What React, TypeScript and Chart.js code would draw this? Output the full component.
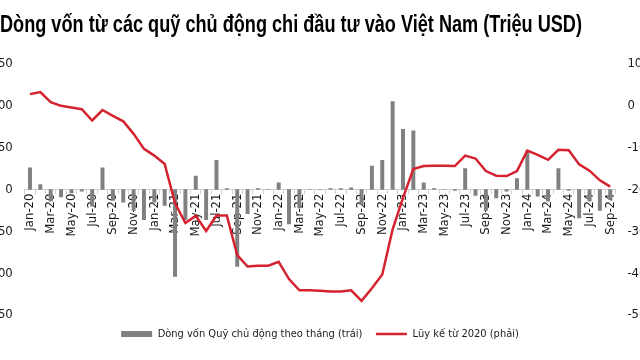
import React, { useEffect, useLayoutEffect, useRef } from 'react';
import { Chart, registerables } from 'chart.js';

Chart.register(...registerables);

const TITLE = 'Dòng vốn từ các quỹ chủ động chi đầu tư vào Việt Nam (Triệu USD)';
const BAR_LABEL = 'Dòng vốn Quỹ chủ động theo tháng (trái)';
const LINE_LABEL = 'Lũy kế từ 2020 (phải)';

const CATEGORIES = [
  'Jan-20', 'Feb-20', 'Mar-20', 'Apr-20', 'May-20', 'Jun-20', 'Jul-20', 'Aug-20', 'Sep-20', 'Oct-20', 'Nov-20', 'Dec-20',
  'Jan-21', 'Feb-21', 'Mar-21', 'Apr-21', 'May-21', 'Jun-21', 'Jul-21', 'Aug-21', 'Sep-21', 'Oct-21', 'Nov-21', 'Dec-21',
  'Jan-22', 'Feb-22', 'Mar-22', 'Apr-22', 'May-22', 'Jun-22', 'Jul-22', 'Aug-22', 'Sep-22', 'Oct-22', 'Nov-22', 'Dec-22',
  'Jan-23', 'Feb-23', 'Mar-23', 'Apr-23', 'May-23', 'Jun-23', 'Jul-23', 'Aug-23', 'Sep-23', 'Oct-23', 'Nov-23', 'Dec-23',
  'Jan-24', 'Feb-24', 'Mar-24', 'Apr-24', 'May-24', 'Jun-24', 'Jul-24', 'Aug-24', 'Sep-24',
];

// Monthly flow (left axis, million USD)
const MONTHLY_FLOW = [
  26, 6, -14, -9, -4, -2, -20, 26, -13, -15, -25, -36,
  -15, -19, -104, -36, 16, -36, 35, 1, -92, -29, 1, 0,
  8, -41, -22, 0, 0, 1, 1, 2, -18, 28, 35, 105,
  72, 70, 8, 1, 0, -1, 25, -7, -25, -10, -2, 13,
  46, -8, -14, 25, -1, -34, -14, -25, -12,
];

// Cumulative since 2020 (right axis, million USD)
const CUMULATIVE = [
  28, 33, 9, 0, -4, -8, -35, -10, -24, -37, -67, -103,
  -119, -139, -233, -280, -263, -299, -262, -262, -357, -384, -382, -382,
  -373, -414, -441, -441, -442, -444, -444, -441, -466, -436, -403, -295,
  -220, -151, -144, -143, -143, -144, -119, -126, -156, -167, -168, -156,
  -107, -117, -129, -105, -106, -140, -155, -178, -193,
];

const LEFT_MIN = -150;
const LEFT_MAX = 150;
const LEFT_STEP = 50;
const RIGHT_MIN = -500;
const RIGHT_MAX = 100;
const RIGHT_STEP = 100;

const GRAY = '#808080';
const RED = '#d4232f';
const TEXT = '#1a1a1a';
const NARROW = '"Liberation Sans Narrow", "Arial Narrow", "DejaVu Sans Condensed", sans-serif';
const TITLE_TARGET_WIDTH = 582;

export default function App() {
  const ref = useRef<HTMLCanvasElement>(null);
  const titleRef = useRef<HTMLSpanElement>(null);

  useLayoutEffect(() => {
    const el = titleRef.current;
    if (!el) return;
    el.style.transform = 'none';
    const w = el.getBoundingClientRect().width;
    if (w > 0) el.style.transform = `scaleX(${TITLE_TARGET_WIDTH / w})`;
  }, []);

  useEffect(() => {
    if (!ref.current) return;
    const chart = new Chart(ref.current, {
      type: 'bar',
      data: {
        labels: CATEGORIES,
        datasets: [
          {
            type: 'bar',
            label: BAR_LABEL,
            data: MONTHLY_FLOW,
            backgroundColor: GRAY,
            barThickness: 3.3,
            yAxisID: 'y',
            order: 2,
          } as any,
          {
            type: 'line',
            label: LINE_LABEL,
            data: CUMULATIVE,
            borderColor: RED,
            backgroundColor: RED,
            borderWidth: 2.5,
            pointRadius: 0,
            tension: 0,
            yAxisID: 'y1',
            order: 1,
          } as any,
        ],
      },
      options: {
        animation: false,
        responsive: false,
        maintainAspectRatio: false,
        layout: { padding: { left: 0, right: 0, top: 64, bottom: 10.5 } },
        plugins: {
          title: { display: false },
          legend: {
            position: 'bottom',
            labels: {
              usePointStyle: true,
              pointStyleWidth: 31,
              boxHeight: 6,
              padding: 13.5,
              color: TEXT,
              font: { family: NARROW, size: 11 },
              generateLabels: () => [
                {
                  text: BAR_LABEL,
                  fillStyle: GRAY,
                  strokeStyle: GRAY,
                  lineWidth: 0,
                  pointStyle: 'rect',
                  hidden: false,
                  datasetIndex: 0,
                  fontColor: TEXT,
                } as any,
                {
                  text: LINE_LABEL,
                  fillStyle: RED,
                  strokeStyle: RED,
                  lineWidth: 2.5,
                  pointStyle: 'line',
                  hidden: false,
                  datasetIndex: 1,
                  fontColor: TEXT,
                } as any,
              ],
            },
          },
          tooltip: { enabled: false },
        },
        scales: {
          x: {
            type: 'category',
            position: { y: 0 } as any,
            offset: true,
            grid: {
              display: true,
              drawOnChartArea: false,
              drawTicks: true,
              tickLength: 4,
              color: '#d0d0d0',
              offset: true,
            },
            border: { display: true, color: '#d0d0d0', width: 1 },
            ticks: {
              autoSkip: false,
              maxRotation: 90,
              minRotation: 90,
              padding: 0,
              color: TEXT,
              font: { family: NARROW, size: 13 },
              callback: (_v: any, i: number) => (i % 2 === 0 ? CATEGORIES[i] : ''),
            },
          },
          y: {
            position: 'left',
            min: LEFT_MIN,
            max: LEFT_MAX,
            ticks: { stepSize: LEFT_STEP, padding: 12, color: TEXT, font: { family: NARROW, size: 13 } },
            grid: { display: false, drawTicks: false },
            border: { display: false },
            afterFit: (s: any) => {
              s.width = 24.8;
            },
          },
          y1: {
            position: 'right',
            min: RIGHT_MIN,
            max: RIGHT_MAX,
            ticks: { stepSize: RIGHT_STEP, padding: 12, color: TEXT, font: { family: NARROW, size: 13 } },
            grid: { display: false, drawTicks: false },
            border: { display: false },
            afterFit: (s: any) => {
              s.width = 24.6;
            },
          },
        },
      } as any,
    });
    return () => chart.destroy();
  }, []);

  return (
    <div style={{ position: 'fixed', left: 0, top: 0, width: 640, height: 360, background: '#fff', overflow: 'hidden' }}>
      <canvas ref={ref} width={640} height={360} style={{ display: 'block', width: 640, height: 360 }} />
      <span
        ref={titleRef}
        style={{
          position: 'absolute',
          left: 0,
          top: 12,
          whiteSpace: 'nowrap',
          fontFamily: '"Liberation Sans", Arial, sans-serif',
          fontWeight: 'bold',
          fontSize: 24,
          lineHeight: '24px',
          color: '#000',
          transformOrigin: '0 0',
          display: 'inline-block',
        }}
      >
        {TITLE}
      </span>
    </div>
  );
}
